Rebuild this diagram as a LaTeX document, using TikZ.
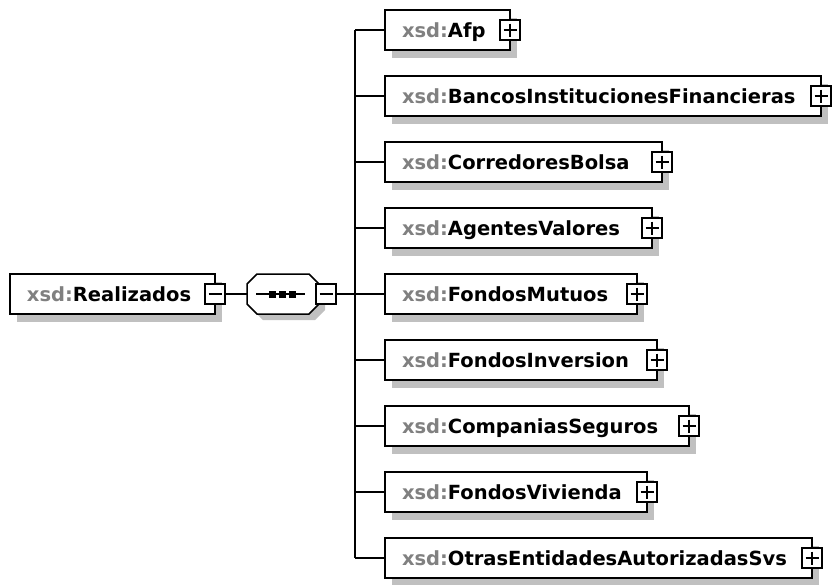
\documentclass[tikz,border=0pt]{standalone}
\usepackage{fontspec}
\setmainfont{DejaVu Sans}
\usetikzlibrary{shadows}
\definecolor{xsdgray}{RGB}{128,128,128}
\definecolor{shadowgray}{RGB}{192,192,192}
\newcommand{\xsdbox}[2]{\makebox[#1pt][l]{\textcolor{xsdgray}{xsd:}#2}}
\begin{document}
\begin{tikzpicture}[x=1pt,y=-1pt,
  elem/.style={draw=black, fill=white, line width=1.5pt, minimum height=40pt,
    inner xsep=17pt, inner ysep=0pt, outer sep=0pt, text height=16pt, text depth=2pt,
    anchor=west, font=\bfseries\fontsize{19.5}{22}\selectfont,
    drop shadow={shadow xshift=7pt, shadow yshift=-8pt, fill=shadowgray, opacity=1, draw=none}},
  expander/.style={draw=black, fill=white, line width=1.3pt, minimum size=20pt,
    inner sep=0pt, outer sep=0pt},
  plusbox/.style={expander, path picture={
    \draw[line width=1.3pt] ([xshift=3.5pt]path picture bounding box.west) -- ([xshift=-3.5pt]path picture bounding box.east)
      ([yshift=-3.5pt]path picture bounding box.north) -- ([yshift=3.5pt]path picture bounding box.south);}},
  minusbox/.style={expander, path picture={
    \draw[line width=1.3pt] ([xshift=3.5pt]path picture bounding box.west) -- ([xshift=-3.5pt]path picture bounding box.east);}},
  seqarea/.style={draw=none, minimum width=72pt, minimum height=40pt, inner sep=0pt, outer sep=0pt},
  conn/.style={line width=1.5pt}]
\useasboundingbox (0,0) rectangle (832,584);

% root
\node[elem] (root) at (10,294) {\xsdbox{171}{Realizados}};
\node[minusbox] (rm) at (root.east) {};

% sequence compositor (octagon)
\fill[shadowgray] (263,280) -- (315,280) -- (325,290) -- (325,310) -- (315,320) -- (263,320) -- (253,310) -- (253,290) -- cycle;
\filldraw[fill=white, draw=black, line width=1.5pt]
  (257,274) -- (309,274) -- (319,284) -- (319,304) -- (309,314) -- (257,314) -- (247,304) -- (247,284) -- cycle;
\node[seqarea] (seq) at (283,294) {};
\draw[line width=1.5pt] (256,294) -- (305,294);
\foreach \x in {272.5,282.5,292.5}{\fill (\x-3.5,290.5) rectangle (\x+3.5,297.5);}
\node[minusbox] (sm) at (326,294) {};
\coordinate (bus) at (355,294);

% children
\node[elem] (b1) at (385,30)  {\xsdbox{91}{Afp}};
\node[elem] (b2) at (385,96)  {\xsdbox{402}{BancosInstitucionesFinancieras}};
\node[elem] (b3) at (385,162) {\xsdbox{243}{CorredoresBolsa}};
\node[elem] (b4) at (385,228) {\xsdbox{233}{AgentesValores}};
\node[elem] (b5) at (385,294) {\xsdbox{218}{FondosMutuos}};
\node[elem] (b6) at (385,360) {\xsdbox{238}{FondosInversion}};
\node[elem] (b7) at (385,426) {\xsdbox{270}{CompaniasSeguros}};
\node[elem] (b8) at (385,492) {\xsdbox{228}{FondosVivienda}};
\node[elem] (b9) at (385,558) {\xsdbox{393}{OtrasEntidadesAutorizadasSvs}};

\foreach \i in {1,...,9}{
  \node[plusbox] (e\i) at (b\i.east) {};
  \draw[conn] (bus |- b\i.west) -- (b\i.west);
}

% connectors
\draw[conn] (rm.east) -- (seq.west);
\draw[conn] (sm.east) -- (bus);
\draw[conn] (bus |- b1.west) -- (bus |- b9.west);
\end{tikzpicture}
\end{document}
